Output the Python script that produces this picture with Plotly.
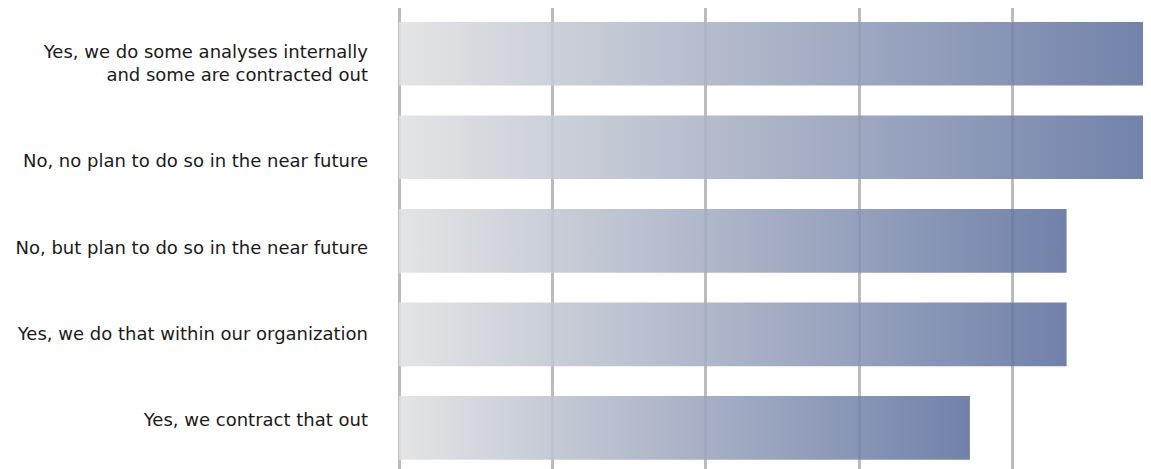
import plotly.graph_objects as go

# survey answers, top to bottom
categories = [
    "Yes, we do some analyses internally<br>and some are contracted out",
    "No, no plan to do so in the near future",
    "No, but plan to do so in the near future",
    "Yes, we do that within our organization",
    "Yes, we contract that out",
]
values = [49, 49, 43.5, 43.5, 37.2]

bar_half = 0.34
grad = [[0, "rgb(224,225,226)"], [1, "rgb(94,112,158)"]]
font_size = 18

fig = go.Figure()
for i, (cat, v) in enumerate(zip(categories, values)):
    # each bar is a filled rectangle so it can carry its own gradient
    fig.add_trace(go.Scatter(
        x=[0, v, v, 0, 0],
        y=[i - bar_half, i - bar_half, i + bar_half, i + bar_half, i - bar_half],
        mode="lines",
        line=dict(width=0),
        fill="toself",
        fillgradient=dict(type="horizontal", colorscale=grad),
        opacity=0.88,
        name=cat,
        hoverinfo="skip",
        showlegend=False,
    ))

# labels sit on their own axis: in the original they are spaced a bit
# tighter than the bars, and a wrapped label grows upwards from its slot
y2_range = [4.579, -0.781]
px_per_unit = 461 / (y2_range[0] - y2_range[1])
label_pos = [
    i - cat.count("<br>") * 1.3 * font_size / 2 / px_per_unit
    for i, cat in enumerate(categories)
]
fig.add_trace(go.Scatter(x=[None], y=[None], yaxis="y2", showlegend=False, hoverinfo="skip"))

# page body has an 8px margin, so the figure is sized to fit the window
fig.update_layout(
    width=1143,
    height=461,
    margin=dict(l=391, r=0, t=0, b=0),
    paper_bgcolor="white",
    plot_bgcolor="white",
    font=dict(family="DejaVu Sans, Verdana, sans-serif", size=font_size, color="#1a1a1a"),
    showlegend=False,
)
fig.update_xaxes(
    range=[0, 49],
    dtick=10,
    showgrid=True,
    gridcolor="#bcbcbc",
    gridwidth=2.5,
    zeroline=True,
    zerolinecolor="#bcbcbc",
    zerolinewidth=3,
    showticklabels=False,
    fixedrange=True,
)
fig.update_layout(
    yaxis=dict(
        range=[4.44, -0.49],
        showticklabels=False,
        showgrid=False,
        zeroline=False,
        fixedrange=True,
    ),
    yaxis2=dict(
        overlaying="y",
        side="left",
        anchor="x",
        range=y2_range,
        tickvals=label_pos,
        ticktext=categories,
        showgrid=False,
        zeroline=False,
        ticks="",
        ticklabelstandoff=30,
        fixedrange=True,
    ),
)

fig.write_html("out.html")
